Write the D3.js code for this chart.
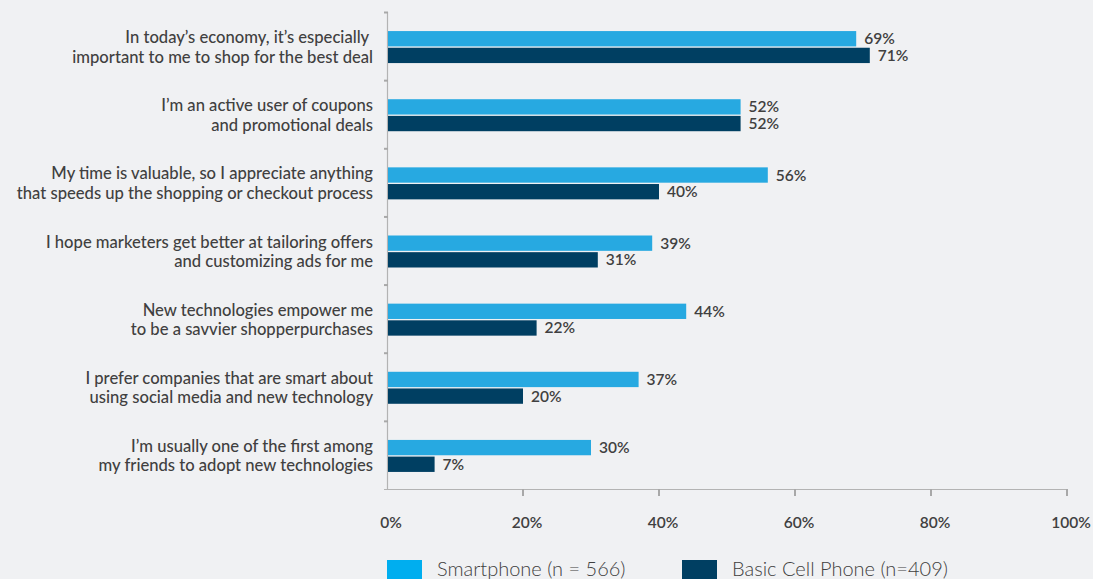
<!DOCTYPE html>
<html><head><meta charset="utf-8">
<script src="https://cdn.jsdelivr.net/npm/d3@7"></script>
<style>
html,body{margin:0;padding:0;background:#f0f1f3;}
svg{display:block;font-family:Lato, "Open Sans", sans-serif;}
</style></head><body>
<svg id="c" width="1093" height="579"></svg>
<script>
const categories = [
  ["In today\u2019s economy, it\u2019s especially ", "important to me to shop for the best deal"],
  ["I\u2019m an active user of coupons", "and promotional deals"],
  ["My time is valuable, so I appreciate anything", "that speeds up the shopping or checkout process"],
  ["I hope marketers get better at tailoring offers", "and customizing ads for me"],
  ["New technologies empower me", "to be a savvier shopperpurchases"],
  ["I prefer companies that are smart about", "using social media and new technology"],
  ["I\u2019m usually one of the first among", "my friends to adopt new technologies"]
];
const smartphone = [69, 52, 56, 39, 44, 37, 30];
const basic = [71, 52, 40, 31, 22, 20, 7];
const seriesNames = ["Smartphone (n = 566)", "Basic Cell Phone (n=409)"];
const xTicks = [0, 20, 40, 60, 80, 100];

const colors = ["#27a9e1", "#003f62"];
const legendColors = ["#00aeef", "#003f62"];
const svg = d3.select("#c");
const x = d3.scaleLinear().domain([0, 100]).range([387, 1067]);
const y = d3.scaleBand().domain(d3.range(categories.length)).range([12, 489]);
const sub = d3.scaleBand().domain([0, 1]).range([0, 32]).paddingInner(0.08);

// y axis line and ticks
svg.append("line").attr("x1", 387.5).attr("x2", 387.5).attr("y1", 12).attr("y2", 489)
  .attr("stroke", "#b3b3b3").attr("stroke-width", 1.2);
svg.selectAll(".yt").data(d3.range(categories.length)).join("line")
  .attr("x1", 384).attr("x2", 388)
  .attr("y1", d => y(d) + 0.5).attr("y2", d => y(d) + 0.5)
  .attr("stroke", "#a8a8a8").attr("stroke-width", 2);

// x axis
svg.append("line").attr("x1", 384).attr("x2", x(100) + 0.5).attr("y1", 489.5).attr("y2", 489.5)
  .attr("stroke", "#b3b3b3").attr("stroke-width", 1.2);
svg.selectAll(".xt").data(xTicks.slice(1)).join("line")
  .attr("x1", d => x(d)).attr("x2", d => x(d))
  .attr("y1", 489).attr("y2", 496)
  .attr("stroke", "#a8a8a8").attr("stroke-width", 2);
svg.selectAll(".xl").data(xTicks).join("text")
  .attr("x", d => x(d) + 4).attr("y", 528)
  .attr("text-anchor", "middle").attr("font-size", 15.5).attr("font-weight", 600)
  .attr("fill", "#404040").text(d => d + "%");

// bars
const groups = svg.selectAll(".g").data(categories).join("g")
  .attr("transform", (d, i) => `translate(0,${y(i) + (y.bandwidth() - 32) / 2 + 1})`);
[smartphone, basic].forEach((vals, s) => {
  groups.append("rect")
    .attr("x", x(0) + 1).attr("y", sub(s))
    .attr("width", (d, i) => x(vals[i]) - x(0) - 1)
    .attr("height", sub.bandwidth())
    .attr("fill", colors[s]);
  groups.append("text")
    .attr("x", (d, i) => x(vals[i]) + 8)
    .attr("y", sub(s) + sub.bandwidth() / 2 + 5.5)
    .attr("font-size", 15.5).attr("font-weight", 600).attr("fill", "#404040")
    .text((d, i) => vals[i] + "%");
});

// category labels
groups.each(function(d) {
  const t = d3.select(this).append("text").attr("text-anchor", "end")
    .attr("font-size", 16.6).attr("font-weight", 500).attr("fill", "#404040");
  t.append("tspan").attr("x", 373).attr("y", 12).text(d[0]);
  t.append("tspan").attr("x", 373).attr("y", 31.5).text(d[1]);
});

// legend
const lx = [387, 682];
seriesNames.forEach((n, i) => {
  svg.append("rect").attr("x", lx[i]).attr("y", 560).attr("width", 35).attr("height", 19)
    .attr("fill", legendColors[i]);
  svg.append("text").attr("x", lx[i] + 50).attr("y", 576)
    .attr("font-size", 20).attr("font-weight", 300).attr("fill", "#404040").text(n);
});
</script>
</body></html>
